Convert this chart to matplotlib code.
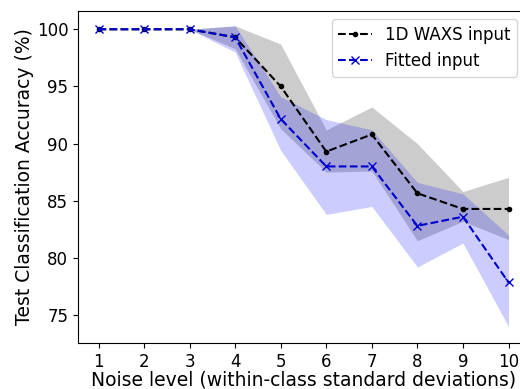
import matplotlib
matplotlib.use("Agg")
import matplotlib.pyplot as plt
import numpy as np

noise = [1, 2, 3, 4, 5, 6, 7, 8, 9, 10]
waxs_mean = [100, 100, 100, 99.3, 95.0, 89.3, 90.8, 85.65, 84.28, 84.28]
waxs_upper = [100, 100, 100, 100.3, 98.7, 91.2, 93.2, 90.0, 85.8, 87.05]
waxs_lower = [100, 100, 100, 98.3, 91.3, 87.5, 87.6, 81.5, 83.2, 81.6]
fit_mean = [100, 100, 100, 99.3, 92.15, 88.0, 88.0, 82.8, 83.6, 77.85]
fit_upper = [100, 100, 100, 100.3, 94.1, 92.1, 91.2, 86.6, 85.6, 82.0]
fit_lower = [100, 100, 100, 98.0, 89.4, 83.8, 84.5, 79.2, 81.3, 74.0]

plt.rcParams['font.family'] = ['DejaVu Sans']
fig = plt.figure(figsize=(5.2, 3.89), dpi=100)
ax = fig.add_axes([78/520, 46/389, 451/520, 332/389])

ax.fill_between(noise, waxs_lower, waxs_upper, color='gray', alpha=0.4, linewidth=0)
ax.fill_between(noise, fit_lower, fit_upper, color='blue', alpha=0.2, linewidth=0)
ax.plot(noise, waxs_mean, 'k--', marker='.', label='1D WAXS input')
ax.plot(noise, fit_mean, '--', color='#0000cc', marker='x', label='Fitted input')

ax.set_xlim(0.55, 10.45)
ax.set_ylim(72.55, 101.6)
ax.set_xticks(noise)
ax.set_yticks([75, 80, 85, 90, 95, 100])
ax.tick_params(labelsize=12)
ax.set_xlabel('Noise level (within-class standard deviations)', fontsize=13.5, labelpad=0)
ax.set_ylabel('Test Classification Accuracy (%)', fontsize=13.5, labelpad=2)
ax.legend(loc='upper right', bbox_to_anchor=(517/520, 1 - 19/389),
          bbox_transform=fig.transFigure, borderaxespad=0, fontsize=12)

fig.savefig('out.png', dpi=100)
